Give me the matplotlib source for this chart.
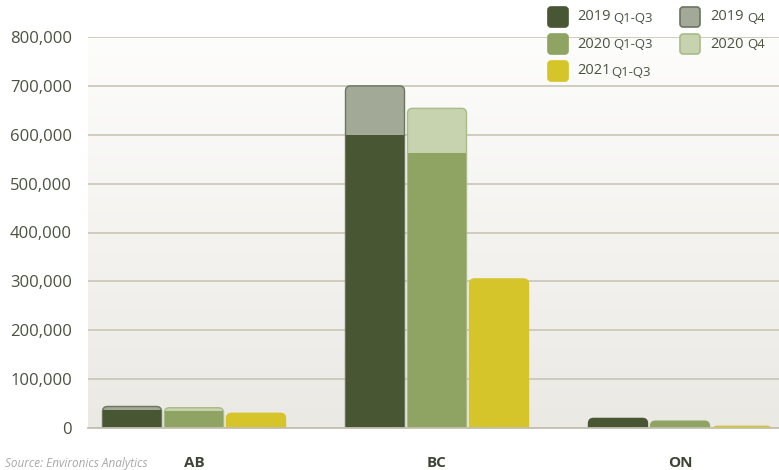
import numpy as np
import matplotlib.pyplot as plt
from matplotlib.patches import FancyBboxPatch, Rectangle
from matplotlib.ticker import FuncFormatter

provinces = ['AB', 'BC', 'ON']
q13_2019 = [37000, 600000, 19600]
q4_2019 = [7000, 100000, 0]
q13_2020 = [34000, 562000, 14000]
q4_2020 = [7500, 92000, 0]
q13_2021 = [30000, 305000, 3500]

c19 = '#495634'
c19q4 = '#a2a996'
c20 = '#8fa463'
c20q4 = '#c6d3ae'
c21 = '#d5c42a'
txt = '#4a5240'

plt.rcParams['font.family'] = ['Open Sans', 'DejaVu Sans']

fig = plt.figure(figsize=(7.79, 4.70), dpi=100)
ax = fig.add_axes([88 / 779, 1 - 428 / 470, 1 - 88 / 779, (428 - 37) / 470])
ax.set_xlim(-106 / 243, 585 / 243)
ax.set_ylim(0, 800000)

# background gradient
grad = np.linspace(0, 1, 256).reshape(-1, 1)
ax.imshow(grad, extent=[-106 / 243, 585 / 243, 0, 800000], aspect='auto',
          cmap=plt.matplotlib.colors.LinearSegmentedColormap.from_list('bg', ['#ebe9e4', '#fdfdfc']),
          origin='lower', zorder=0)

ax.yaxis.grid(True, color='#cdc9b9', linewidth=1.3, zorder=1)
ax.set_axisbelow(True)
for s in ['top', 'right', 'left']:
    ax.spines[s].set_visible(False)
ax.spines['bottom'].set_color('#c4bfaf')
ax.spines['bottom'].set_linewidth(1.3)
ax.spines['bottom'].set_zorder(5)

ax.set_yticks(np.arange(0, 800001, 100000))
ax.yaxis.set_major_formatter(FuncFormatter(lambda v, p: f'{int(v):,}' if v else '0'))
ax.tick_params(axis='y', length=0, pad=11.5, labelsize=12, labelcolor=txt)
ax.set_xticks(range(len(provinces)))
ax.set_xticklabels(provinces, fontweight='bold', fontsize=11, color='#3d4536')
ax.tick_params(axis='x', length=0, pad=20)

w = 59 / 243
off = 62 / 243
r = 5 / 243
asp = (5 / 48.9 * 100000) / r


def rbar(x, h, color, ec=None):
    p = FancyBboxPatch((x - w / 2, -30000), w, h + 30000,
                       boxstyle=f'round,pad=0,rounding_size={r}', mutation_aspect=asp,
                       facecolor=color, edgecolor=ec if ec else color, linewidth=1.0, zorder=3)
    ax.add_patch(p)


for i in range(len(provinces)):
    x0 = i - off
    rbar(x0, q13_2019[i] + q4_2019[i], c19q4 if q4_2019[i] else c19, '#6b7560' if q4_2019[i] else None)
    if q4_2019[i]:
        ax.add_patch(Rectangle((x0 - w / 2 + 0.003, 0), w - 0.006, q13_2019[i], facecolor=c19, zorder=4))
    x1 = i
    rbar(x1, q13_2020[i] + q4_2020[i], c20q4 if q4_2020[i] else c20, '#a9bb88' if q4_2020[i] else None)
    if q4_2020[i]:
        ax.add_patch(Rectangle((x1 - w / 2 + 0.003, 0), w - 0.006, q13_2020[i], facecolor=c20, zorder=4))
    rbar(i + off, q13_2021[i], c21)

# legend
legend_items = [
    (548, 17, c19, None, '2019', 'Q1-Q3', 577, 613),
    (680, 17, c19q4, '#6b7560', '2019', 'Q4', 710, 747),
    (548, 44, c20, None, '2020', 'Q1-Q3', 577, 613),
    (680, 44, c20q4, '#a9bb88', '2020', 'Q4', 710, 747),
    (548, 71, c21, None, '2021', 'Q1-Q3', 577, 611),
]
for sx, sy, fc, ec, main, sub, tx, subx in legend_items:
    fig.patches.append(FancyBboxPatch((sx / 779, 1 - (sy + 10) / 470), 20 / 779, 20 / 470,
                                      boxstyle='round,pad=0,rounding_size=0.004',
                                      mutation_aspect=779 / 470,
                                      transform=fig.transFigure, facecolor=fc,
                                      edgecolor=ec if ec else fc, linewidth=1.2, zorder=10))
    fig.text(tx / 779, 1 - sy / 470, main, fontsize=10.5, color=txt, va='center', ha='left')
    fig.text(subx / 779, 1 - (sy + 1) / 470, sub, fontsize=9.5, color=txt, va='center', ha='left')

fig.text(5 / 779, 1 - 464 / 470, 'Source: Environics Analytics', fontsize=8.5, style='italic',
         color='#a8a8a8', va='center', ha='left')

fig.savefig('out.png', dpi=100)
